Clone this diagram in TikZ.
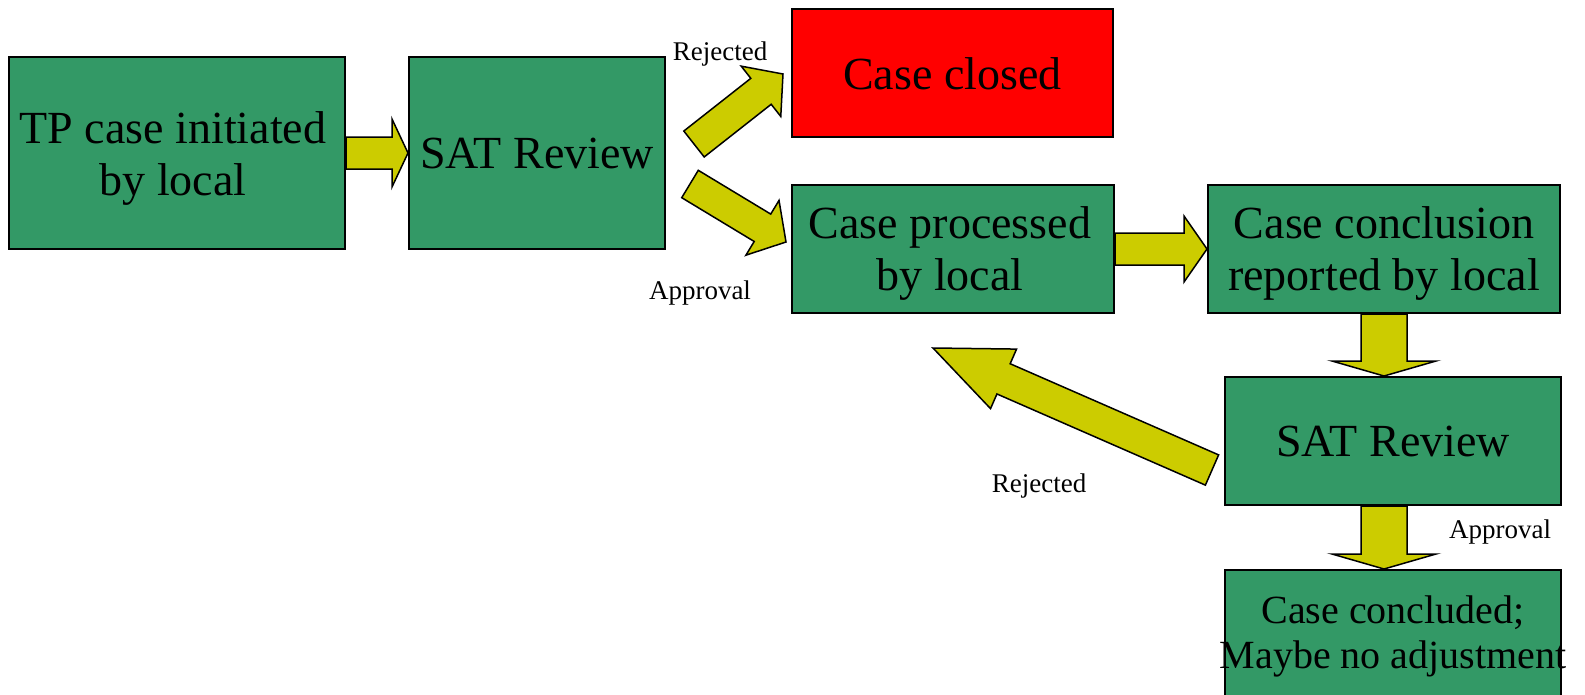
\documentclass[tikz,border=0pt]{standalone}
\usepackage{fontspec}
\setmainfont{Liberation Serif}
\usetikzlibrary{calc}
\definecolor{sgreen}{HTML}{339966}
\definecolor{syellow}{HTML}{CCCC00}
\definecolor{sred}{HTML}{FF0000}
% tail, tip, shaft half-width, head half-width, head length
\newcommand\blockarrow[5]{%
  \coordinate (bahead) at ($(#2)!#5!(#1)$);
  \draw[barrow] ($(#1)!#3!90:(#2)$) -- ($(bahead)!#3!90:(#2)$) -- ($(bahead)!#4!90:(#2)$) -- (#2)
    -- ($(bahead)!#4!-90:(#2)$) -- ($(bahead)!#3!-90:(#2)$) -- ($(#1)!#3!-90:(#2)$) -- cycle;}
\tikzset{
  box/.style={draw=black, line width=2pt, fill=sgreen, inner sep=0pt},
  redbox/.style={box, fill=sred},
  txt/.style={inner sep=0pt, align=center, font=\fontsize{46}{52}\selectfont},
  smalltxt/.style={txt, font=\fontsize{40}{45}\selectfont},
  barrow/.style={draw=black, fill=syellow, line width=1.5pt, line join=miter},
  lbl/.style={font=\fontsize{27}{30}\selectfont, inner sep=0pt}
}
\begin{document}
\begin{tikzpicture}[x=1pt,y=-1pt]
\useasboundingbox (0,0) rectangle (1585,694);
\clip (0,0) rectangle (1585,694);
% boxes
\node[box, minimum width=336pt, minimum height=192pt] (a) at (177,153) {};
\node[box, minimum width=256pt, minimum height=192pt] (b) at (537,153) {};
\node[redbox, minimum width=321pt, minimum height=128pt] (c) at (952.5,73) {};
\node[box, minimum width=322pt, minimum height=128pt] (d) at (953,249) {};
\node[box, minimum width=352pt, minimum height=128pt] (e) at (1384,249) {};
\node[box, minimum width=336pt, minimum height=128pt] (f) at (1393,441) {};
\node[box, minimum width=336pt, minimum height=128pt] (g) at (1393,634) {};
% box texts
\node[txt] (ta) at ([xshift=-4pt,yshift=-5pt]a.center) {TP case initiated\\by local};
\node[txt] (tb) at (b.center) {SAT Review};
\node[txt] (tc) at ([yshift=-1pt]c.center) {Case closed};
\node[txt] (td) at ([xshift=-3pt,yshift=-4.5pt]d.center) {Case processed\\by local};
\node[txt] (te) at ([yshift=-4.5pt]e.center) {Case conclusion\\reported by local};
\node[txt] (tf) at (f.center) {SAT Review};
\node[smalltxt] (tg) at ([yshift=-2pt]g.center)
  {\makebox[0pt]{Case concluded;}\\\makebox[0pt]{Maybe no adjustment}};
% arrow end points
\coordinate (bc-t) at (694,144);
\coordinate (bc-h) at (783,74);
\coordinate (bd-t) at (690,184);
\coordinate (bd-h) at (786,242);
\coordinate (fd-t) at (1212,470);
\coordinate (fd-h) at (933,348);
\coordinate (ef-t) at (e.south);
\coordinate (ef-h) at (e.south |- f.north);
\coordinate (fg-t) at (e.south |- f.south);
\coordinate (fg-h) at (e.south |- g.north);
% arrows
\blockarrow{a.east}{b.west}{16pt}{34pt}{16pt}
\blockarrow{d.east}{e.west}{16pt}{33pt}{23pt}
\blockarrow{ef-t}{ef-h}{23pt}{52pt}{15pt}
\blockarrow{fg-t}{fg-h}{23pt}{52pt}{15pt}
\blockarrow{bc-t}{bc-h}{16.5pt}{32pt}{28pt}
\blockarrow{bd-t}{bd-h}{16pt}{32pt}{27.5pt}
\blockarrow{fd-t}{fd-h}{16.5pt}{32.5pt}{77pt}
% labels
\node[lbl] (l1) at (720,54) {Rejected};
\node[lbl] (l2) at (700,293) {Approval};
\node[lbl] (l3) at (1039,486) {Rejected};
\node[lbl] (l4) at (1500,532) {Approval};
\end{tikzpicture}
\end{document}
